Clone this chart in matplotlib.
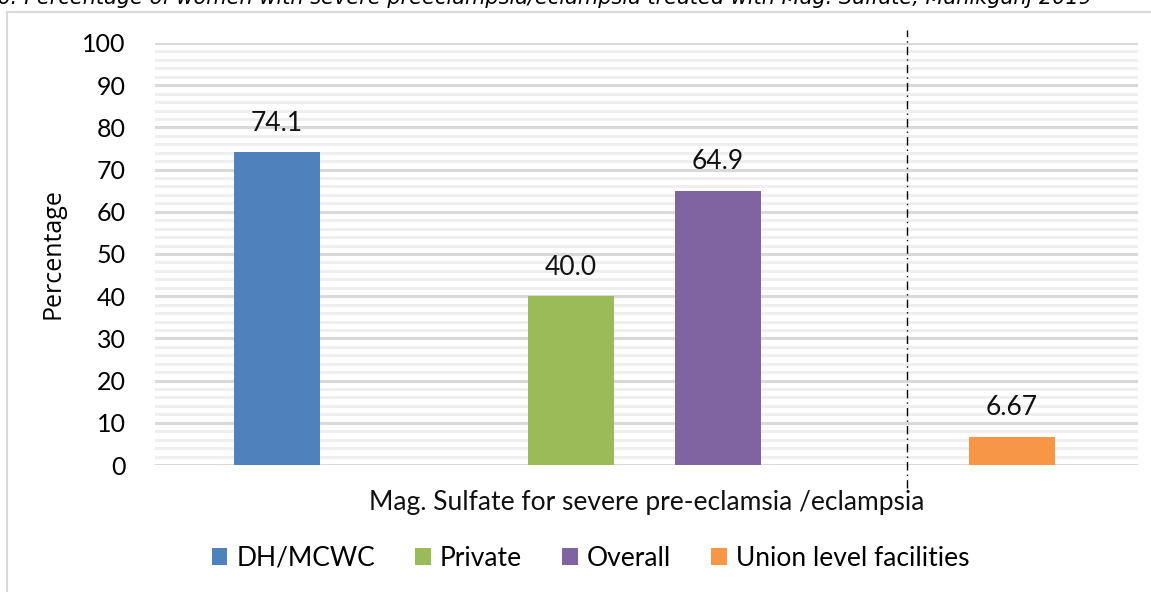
import matplotlib
matplotlib.use("Agg")
import matplotlib.pyplot as plt
from matplotlib.patches import Rectangle
from matplotlib.ticker import MultipleLocator

#######################################
#      data                           #
#######################################
series = ['DH/MCWC', 'Private', 'Overall', 'Union level facilities']
values = [74.1, 40.0, 64.9, 6.67]
value_labels = ['74.1', '40.0', '64.9', '6.67']
colors = ['#4f81bd', '#9bbb59', '#8064a2', '#f79646']
category = 'Mag. Sulfate for severe pre-eclamsia /eclampsia'
title = ('Figure 6: Percentage of women with severe preeclampsia/eclampsia '
         'treated with Mag. Sulfate, Manikganj 2019')

# slot of each series inside the single category (two empty slots in between)
slots = [0, 2, 3, 5]
bar_w = 0.585

plt.rcParams['font.family'] = ['Lato', 'DejaVu Sans']

fig = plt.figure(figsize=(11.51, 5.92), dpi=100)
ax = fig.add_axes([0.1347, 0.2145, 0.854, 0.7129])

for s, v, c, name, lab in zip(slots, values, colors, series, value_labels):
    ax.bar(s, v, width=bar_w, color=c, label=name, zorder=3)
    ax.annotate(lab, (s, v), xytext=(0, 12), textcoords='offset points',
                ha='center', va='bottom', fontsize=19, color='#111111')

ax.set_xlim(-0.83, 5.86)
ax.set_ylim(0, 100)
ax.yaxis.set_major_locator(MultipleLocator(10))
ax.yaxis.set_minor_locator(MultipleLocator(2))
ax.grid(axis='y', which='major', color='#d9d9d9', lw=2.2, zorder=0)
ax.grid(axis='y', which='minor', color='#efefef', lw=2.2, zorder=0)
ax.set_xticks([])
ax.tick_params(axis='y', which='both', length=0, labelsize=18, pad=21)
for sp in ax.spines.values():
    sp.set_visible(False)

ax.set_xlabel(category, fontsize=19, labelpad=18, color='#111111')
ax.set_ylabel('Percentage', fontsize=18, family=['Open Sans', 'DejaVu Sans'],
              labelpad=12)

# separator between district and union facilities
ax.axvline(4.29, ymin=-0.055, ymax=1.031, color='black', lw=1,
           ls=(0, (6, 3, 1, 3)), clip_on=False, zorder=4)

fig.legend(loc='center', bbox_to_anchor=(0.513, 0.057), ncol=4, frameon=False,
           fontsize=19, handlelength=0.6, handleheight=0.6, handletextpad=0.35,
           columnspacing=1.5)

# chart border and cut-off caption
fig.add_artist(Rectangle((7 / 1151, -0.1), 1.2, 1.1 - 12 / 592, fill=False,
                         ec='#d9d9d9', lw=1.5, transform=fig.transFigure))
fig.text(1092 / 1151, 1.004, title, ha='right', va='center', fontsize=15,
         style='italic', family=['Liberation Sans Narrow', 'DejaVu Sans'])

fig.savefig('out.png', dpi=100)
